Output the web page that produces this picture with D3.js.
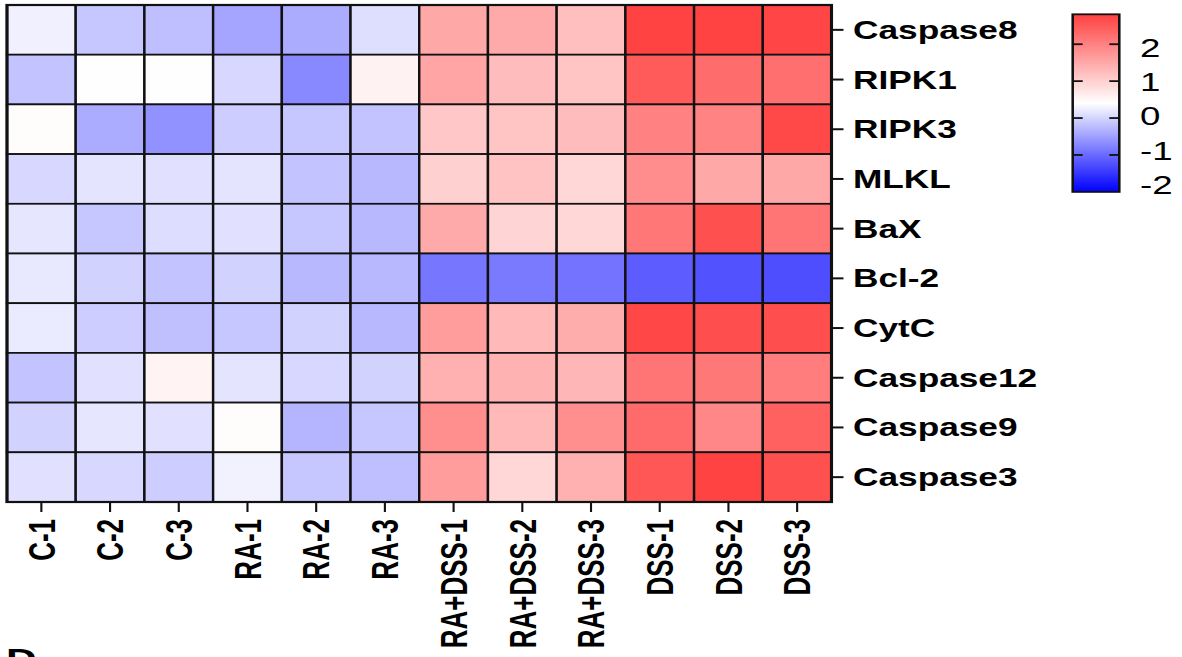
<!DOCTYPE html>
<html>
<head>
<meta charset="utf-8">
<script src="https://cdn.jsdelivr.net/npm/d3@7"></script>
<style>
  html, body { margin: 0; padding: 0; background: #fff; }
  svg { display: block; }
</style>
</head>
<body>
<div id="chart"></div>
<script>
// genes (rows, top to bottom) and samples (columns)
const genes = ['Caspase8', 'RIPK1', 'RIPK3', 'MLKL', 'BaX', 'Bcl-2', 'CytC', 'Caspase12', 'Caspase9', 'Caspase3']
const samples = ['C-1', 'C-2', 'C-3', 'RA-1', 'RA-2', 'RA-3',
  'RA+DSS-1', 'RA+DSS-2', 'RA+DSS-3', 'DSS-1', 'DSS-2', 'DSS-3']

// z-scores, one array per gene, in sample order
const caspase8  = [0.26, -0.12, -0.20, -0.44, -0.38, 0.09, 1.50, 1.48, 1.22, 2.78, 2.78, 2.76]
const ripk1     = [-0.16, 0.42, 0.42, 0.03, -0.71, 0.57, 1.54, 1.25, 1.15, 2.48, 2.26, 2.23]
const ripk3     = [0.44, -0.39, -0.63, -0.07, -0.12, -0.16, 1.12, 1.15, 1.25, 2.00, 1.98, 2.71]
const mlkl      = [0.03, 0.15, 0.12, 0.15, -0.16, -0.26, 1.00, 1.16, 0.91, 1.85, 1.50, 1.50]
const bax       = [0.17, -0.12, 0.08, 0.12, -0.12, -0.26, 1.48, 0.95, 0.91, 2.13, 2.62, 2.17]
const bcl2      = [0.19, -0.02, -0.16, -0.02, -0.26, -0.26, -0.89, -0.85, -0.92, -1.13, -1.23, -1.26]
const cytc      = [0.22, -0.07, -0.19, -0.12, -0.02, -0.26, 1.66, 1.29, 1.45, 2.74, 2.64, 2.64]
const caspase12 = [-0.16, 0.12, 0.56, 0.15, 0.03, -0.02, 1.41, 1.38, 1.33, 2.17, 2.11, 2.05]
const caspase9  = [-0.02, 0.17, 0.12, 0.44, -0.30, -0.12, 1.83, 1.29, 1.83, 2.29, 1.92, 2.42]
const caspase3  = [0.12, 0.03, -0.07, 0.28, -0.12, -0.20, 1.66, 0.91, 1.41, 2.55, 2.80, 2.62]
const rows = [caspase8, ripk1, ripk3, mlkl, bax, bcl2, cytc, caspase12, caspase9, caspase3]

// colour bar range and tick labels
const colorRange = [-2, 2.81]
const legendTicks = [2, 1, 0, -1]
const legendLabels = [2, 1, 0, -1, -2]

const W = 1182
const H = 657
// the figure is stretched horizontally, so everything is drawn in an unstretched
// space and scaled in x
const SX = 1.41
const grid = { left: 7, right: 831.5, top: 5, bottom: 502 }
const legendBox = { left: 1072.7, right: 1119.3, top: 14.3, bottom: 191.9 }
const font = 'Liberation Sans, Arial, Helvetica, sans-serif'

const svg = d3.select('#chart')
  .append('svg')
  .attr('width', W)
  .attr('height', H)

const g = svg.append('g')
  .attr('transform', 'scale(' + SX + ',1)')

// scales
const x = d3.scaleBand()
  .domain(samples)
  .range([grid.left / SX, grid.right / SX])
const y = d3.scaleBand()
  .domain(genes)
  .range([grid.top, grid.bottom])
const mid = (colorRange[0] + colorRange[1]) / 2
const color = d3.scaleLinear()
  .domain([colorRange[0], mid, colorRange[1]])
  .range(['#0000ff', '#ffffff', '#ff4141'])
  .interpolate(d3.interpolateRgb)

// cells
const cells = []
rows.forEach((vals, i) => {
  vals.forEach((v, j) => cells.push({ gene: genes[i], sample: samples[j], value: v }))
})
g.append('g')
  .selectAll('rect')
  .data(cells)
  .enter()
  .append('rect')
  .attr('x', d => x(d.sample))
  .attr('y', d => y(d.gene))
  .attr('width', x.bandwidth())
  .attr('height', y.bandwidth())
  .attr('fill', d => color(d.value))
  .attr('stroke', '#111')
  .attr('stroke-width', 1.7)

// outer frame
g.append('rect')
  .attr('x', x.range()[0])
  .attr('y', y.range()[0])
  .attr('width', x.range()[1] - x.range()[0])
  .attr('height', y.range()[1] - y.range()[0])
  .attr('fill', 'none')
  .attr('stroke', '#111')
  .attr('stroke-width', 2.2)

// right axis: gene names
const yAxis = d3.axisRight(y)
  .tickSize(12 / SX)
  .tickPadding(9.5 / SX)
const yAxisG = g.append('g')
  .attr('transform', 'translate(' + (grid.right / SX) + ',0)')
  .call(yAxis)
yAxisG.select('.domain').remove()
yAxisG.selectAll('line').attr('stroke', '#111').attr('stroke-width', 2)
yAxisG.selectAll('text')
  .attr('fill', '#000')
  .attr('dy', '0.36em')
  .style('font-family', font)
  .style('font-weight', 'bold')
  .style('font-size', '25px')

// bottom axis: sample names, rotated
const xAxis = d3.axisBottom(x)
  .tickSize(10)
  .tickPadding(7)
const xAxisG = g.append('g')
  .attr('transform', 'translate(0,' + grid.bottom + ')')
  .call(xAxis)
xAxisG.select('.domain').remove()
xAxisG.selectAll('line').attr('stroke', '#111').attr('stroke-width', 1.5)
xAxisG.selectAll('text')
  .attr('fill', '#000')
  .attr('transform', 'rotate(-90)')
  .attr('x', -17)
  .attr('y', 0)
  .attr('dy', '0.36em')
  .attr('text-anchor', 'end')
  .style('font-family', font)
  .style('font-weight', 'bold')
  .style('font-size', '26px')

// colour bar
const ly = d3.scaleLinear()
  .domain(colorRange)
  .range([legendBox.bottom, legendBox.top])
const defs = svg.append('defs')
const grad = defs.append('linearGradient')
  .attr('id', 'heat-grad')
  .attr('x1', 0).attr('y1', 1)
  .attr('x2', 0).attr('y2', 0)
grad.selectAll('stop')
  .data(d3.range(0, 1.0001, 0.05))
  .enter()
  .append('stop')
  .attr('offset', t => t)
  .attr('stop-color', t => color(colorRange[0] + t * (colorRange[1] - colorRange[0])))

const lx0 = legendBox.left / SX
const lx1 = legendBox.right / SX
g.append('rect')
  .attr('x', lx0)
  .attr('y', ly.range()[1])
  .attr('width', lx1 - lx0)
  .attr('height', ly.range()[0] - ly.range()[1])
  .attr('fill', 'url(#heat-grad)')
  .attr('stroke', '#111')
  .attr('stroke-width', 1.8)

const tickLen = 10 / SX
const legendTickG = g.append('g')
legendTickG.selectAll('line.l')
  .data(legendTicks)
  .enter()
  .append('line')
  .attr('class', 'l')
  .attr('x1', lx0).attr('x2', lx0 + tickLen)
  .attr('y1', d => ly(d)).attr('y2', d => ly(d))
  .attr('stroke', '#111').attr('stroke-width', 1.8)
legendTickG.selectAll('line.r')
  .data(legendTicks)
  .enter()
  .append('line')
  .attr('class', 'r')
  .attr('x1', lx1 - tickLen).attr('x2', lx1)
  .attr('y1', d => ly(d)).attr('y2', d => ly(d))
  .attr('stroke', '#111').attr('stroke-width', 1.8)

// labels sit a little tighter than the ticks
const labelY = d3.scaleLinear()
  .domain([-2, 2])
  .range([184.5, 47.5])
g.append('g')
  .selectAll('text')
  .data(legendLabels)
  .enter()
  .append('text')
  .attr('x', 1140 / SX)
  .attr('y', d => labelY(d))
  .attr('dy', '0.36em')
  .attr('fill', '#000')
  .style('font-family', font)
  .style('font-size', '26px')
  .text(d => String(d))

// panel letter, cut off at the bottom edge
g.append('text')
  .attr('x', 6 / SX)
  .attr('y', 669)
  .attr('fill', '#000')
  .style('font-family', font)
  .style('font-weight', 'bold')
  .style('font-size', '30px')
  .text('D')
</script>
</body>
</html>
